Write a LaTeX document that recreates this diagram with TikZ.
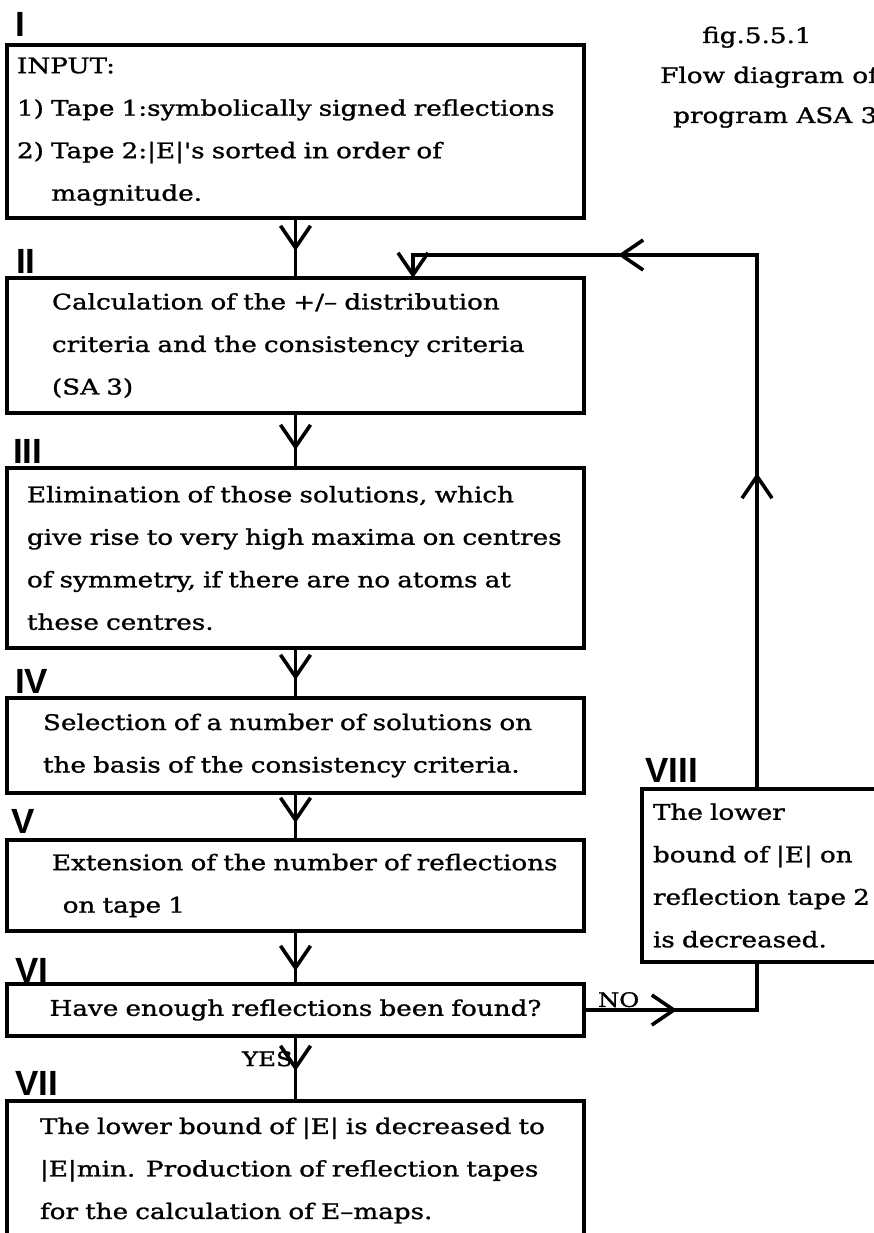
\documentclass[tikz,border=0pt]{standalone}
\usepackage{fontspec}
\newfontfamily\typefont[FakeStretch=1.22, FakeBold=1.2]{DejaVu Serif}
\newfontfamily\labelfont{Liberation Sans}
\usepackage{tikz}
\usetikzlibrary{arrows.meta}
\usetikzlibrary{decorations.markings}

\tikzset{
	>={Straight Barb[length=22pt,width=30pt]},
	stage/.style={draw, line width=3.6pt, outer sep=0pt, anchor=north west, align=left,
		font=\typefont\fontsize{21.5}{42.5}\selectfont},
	numeral/.style={anchor=base west, inner sep=0pt, font=\labelfont\bfseries\fontsize{35}{35}\selectfont},
	caption/.style={anchor=base west, inner sep=0pt, font=\typefont\fontsize{21.5}{40}\selectfont},
	yesno/.style={inner sep=1pt, font=\typefont\fontsize{20}{20}\selectfont},
	flow/.style={line width=3.6pt},
	tipat/.style={postaction={decorate, decoration={markings, mark=at position #1 with {\arrow{>}}}}}
}

\begin{document}
\begin{tikzpicture}[x=1pt, y=-1pt]
\useasboundingbox (0,0) rectangle (873,1233);

\node[caption] (fig) at (702,43) {fig.5.5.1};
\node[caption] (title) at (660,83) {Flow diagram of};
\node[caption] (prog) at (673,123) {program ASA 3};

\node[stage, minimum height=173pt, inner xsep=10pt, text width=557pt] (i) at (7,45)
	{INPUT:\\ \mbox{1) Tape 1:symbolically signed reflections}\\ 2) Tape 2:|E|'s sorted in order of\\ \hspace*{1.6em}magnitude.};
\node[stage, minimum height=135pt, inner xsep=45pt, text width=487pt] (ii) at (7,278)
	{Calculation of the +/– distribution\\ \mbox{criteria and the consistency criteria}\\ (SA 3)};
\node[stage, minimum height=180pt, inner xsep=20pt, text width=537pt] (iii) at (7,468)
	{Elimination of those solutions, which\\ \mbox{give rise to very high maxima on centres}\\ of symmetry, if there are no atoms at\\ these centres.};
\node[stage, minimum height=95pt, inner xsep=36pt, text width=505pt] (iv) at (7,698)
	{Selection of a number of solutions on\\ \mbox{the basis of the consistency criteria.}};
\node[stage, minimum height=91pt, inner xsep=45pt, text width=487pt] (v) at (7,840)
	{\mbox{Extension of the number of reflections}\\ \hspace*{0.5em}on tape 1};
\node[stage, minimum height=52pt, inner xsep=10pt, text width=557pt, align=center] (vi) at (7,984)
	{\mbox{Have enough reflections been found?}};
\node[stage, minimum height=139pt, inner xsep=33pt, text width=511pt] (vii) at (7,1101)
	{\mbox{The lower bound of |E| is decreased to}\\ \mbox{|E|min. Production of reflection tapes}\\ for the calculation of E–maps.};
\node[stage, minimum height=173pt, inner xsep=11pt, text width=250pt] (viii) at (642,789)
	{The lower\\ bound of |E| on\\ \mbox{reflection tape 2}\\ is decreased.};

\node[numeral] (nI) at (15,37) {I};
\node[numeral] (nII) at (16,273) {II};
\node[numeral] (nIII) at (13,463) {III};
\node[numeral] (nIV) at (15,693) {IV};
\node[numeral] (nV) at (11,833) {V};
\node[numeral] (nVI) at (15,982) {VI};
\node[numeral] (nVII) at (15,1095) {VII};
\node[numeral] (nVIII) at (645,782) {VIII};

\coordinate (back) at (757,255);
\coordinate (entry) at (413,255);

\path[flow]
(i) edge[tipat=-27pt] (ii)
(ii) edge[tipat=-18pt] (iii)
(iii) edge[tipat=-18pt] (iv)
(iv) edge[tipat=-17pt] (v)
(v) edge[tipat=-13pt] (vi)
(vi) edge[tipat=-30pt] node[yesno, pos=0.35, left] {YES} (vii)
;
\draw[flow, tipat=93pt] (vi.east) -| node[yesno, pos=0.1, above] {NO} (viii.south -| back);
\draw[flow, ->, tipat=316pt, tipat=673pt] (viii.north -| back) -- (back) -- (entry) -- (entry |- ii.north);
\end{tikzpicture}
\end{document}
